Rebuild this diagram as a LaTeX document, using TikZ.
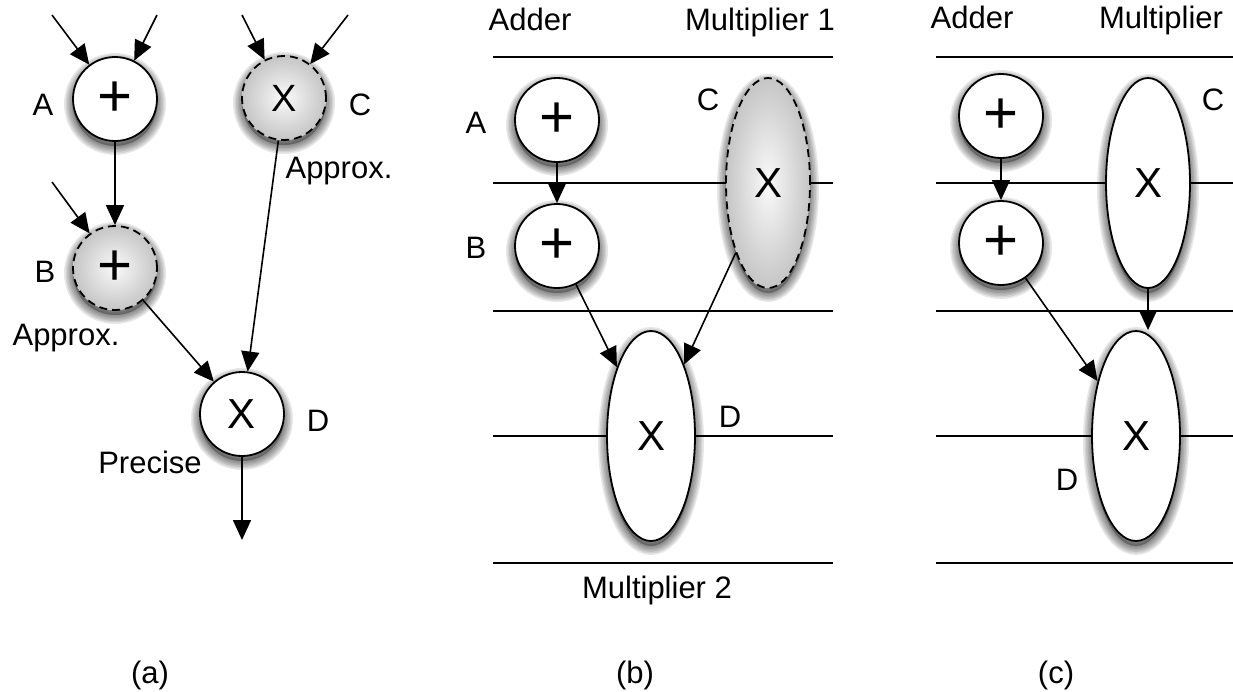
\documentclass[tikz,border=0pt]{standalone}
\usepackage{fontspec}
\setmainfont{Liberation Sans}
\usetikzlibrary{arrows.meta,shapes.geometric}

\tikzset{
  lbl/.style={font=\fontsize{31}{36}\selectfont, inner sep=0pt, anchor=base},
  % soft drop shadow: a translucent fill plus a stack of widening strokes
  halo/.style={preaction={draw=black, draw opacity=0.09, fill=none, solid,
                          line width=#1, transform canvas={yshift=-5pt}}},
  op/.style={draw, line width=1.8pt, fill=white, inner sep=0pt,
    preaction={fill=black, fill opacity=0.3, draw=none,
               transform canvas={yshift=-5pt}},
    halo=3pt, halo=6pt, halo=9pt, halo=12pt, halo=15pt, halo=18pt},
  rnd/.style={op, circle, minimum size=84pt},
  oval/.style={op, ellipse, minimum width=86pt, minimum height=210pt},
  approx/.style={dash pattern=on 8pt off 5pt, shade,
                 inner color=gray!4, outer color=gray!45},
  arr/.style={line width=1.6pt, -{Triangle[length=20pt,width=18pt]}},
  lane/.style={line width=1.8pt},
  times/.style={font=\fontsize{42}{42}\selectfont},
  plus/.style={font=\fontsize{60}{60}\selectfont}
}

\begin{document}
\begin{tikzpicture}[x=1pt, y=-1pt]
\useasboundingbox (0,0) rectangle (1233,691);

% ---------------- (a) dataflow graph ----------------
\node[rnd, plus] (aA) at (115,99) {+};
\node[rnd, approx, times, font=\fontsize{38}{38}\selectfont] (aC) at (284,98) {X};
\node[rnd, approx, plus] (aB) at (115,268) {+};
\node[rnd, times] (aD) at (242,414) {X};

\coordinate (aA1) at (52,15);
\coordinate (aA2) at (157,15);
\coordinate (aC1) at (242,15);
\coordinate (aC2) at (348,15);
\coordinate (aB1) at (52,182);
\coordinate (aOut) at (242,540);

\draw[arr] (aA1) -- (aA);
\draw[arr] (aA2) -- (aA);
\draw[arr] (aC1) -- (aC);
\draw[arr] (aC2) -- (aC);
\draw[arr] (aB1) -- (aB);
\draw[arr] (aA) -- (aB);
\draw[arr] (aB) -- (aD);
\draw[arr] (aC) -- (aD);
\draw[arr] (aD) -- (aOut);

\node[lbl] (laA) at (43,115) {A};
\node[lbl] (laB) at (45,282) {B};
\node[lbl] (laC) at (360,115) {C};
\node[lbl] (laD) at (318,431) {D};
\node[lbl] (laAC) at (339,178) {Approx.};
\node[lbl] (laAB) at (66,345) {Approx.};
\node[lbl] (laP) at (150,473) {Precise};
\node[lbl] (capA) at (150,683) {(a)};

% ---------------- (b) schedule, two multipliers ----------------
\foreach \yy in {57,183,311,436,563}
  \draw[lane] (493,\yy) -- (833,\yy);

\node[rnd, plus] (bA) at (557,120) {+};
\node[rnd, plus] (bB) at (557,246) {+};
\node[oval, approx, times, minimum width=84pt] (bC) at (768,183) {X};
\node[oval, times, minimum width=88pt] (bD) at (651,436) {X};

\draw[arr] (bA) -- (bB);
\draw[arr] (bB) -- (bD);
\draw[arr] (bC) -- (bD);

\node[lbl] (hbAdd) at (530,30) {Adder};
\node[lbl] (hbM1) at (760,30) {Multiplier 1};
\node[lbl] (hbM2) at (657,598) {Multiplier 2};
\node[lbl] (lbA) at (476,133) {A};
\node[lbl] (lbB) at (476,258) {B};
\node[lbl] (lbC) at (708,110) {C};
\node[lbl] (lbD) at (730,427) {D};
\node[lbl] (capB) at (635,683) {(b)};

% ---------------- (c) schedule, one multiplier ----------------
\foreach \yy in {57,183,311,436,563}
  \draw[lane] (936,\yy) -- (1233,\yy);

\node[rnd, plus] (cA) at (1001,116) {+};
\node[rnd, plus] (cB) at (1001,243) {+};
\node[oval, times, minimum width=84pt] (cC) at (1148,183) {X};
\node[oval, times, minimum width=88pt] (cD) at (1136,436) {X};

\draw[arr] (cA) -- (cB);
\draw[arr] (cB) -- (cD);
\draw[arr] (cC.south) -- (cC.south |- cD.north);

\node[lbl] (hcAdd) at (972,28) {Adder};
\node[lbl] (hcM) at (1161,28) {Multiplier};
\node[lbl] (lcC) at (1213,110) {C};
\node[lbl] (lcD) at (1067,490) {D};
\node[lbl] (capC) at (1056,683) {(c)};
\end{tikzpicture}
\end{document}
